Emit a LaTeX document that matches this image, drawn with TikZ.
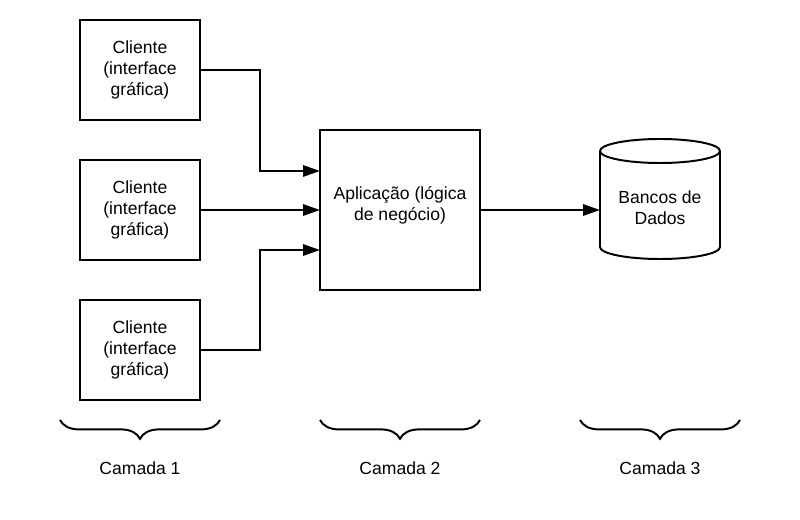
\documentclass[tikz,border=0pt]{standalone}
\usepackage{fontspec}
\setmainfont{Liberation Sans}
\usetikzlibrary{arrows.meta, positioning, decorations.pathreplacing, calc}

\begin{document}
\begin{tikzpicture}[
				node distance=1cm and 3cm,
				texto/.style={font=\fontsize{12.5}{15.2}\selectfont, align=center},
				caixa/.style={
						texto,
						draw=black,
						fill=white,
						line width=1.4pt,
						minimum width=3cm,
						minimum height=2.5cm,
						inner sep=2pt,
						outer sep=0pt,
					},
				aplicacao/.style={
						caixa,
						minimum width=4cm,
						minimum height=4cm,
						text depth=0.32cm,
					},
				seta/.style={
						-{Triangle[length=0.42cm, width=0.28cm]}, line width=1.4pt, black,
					},
				chave/.style={
						decorate, decoration={brace, mirror, amplitude=0.47cm},
						line width=1.4pt, black,
					},
			]

			% Rahmen
			\useasboundingbox (0,0) rectangle (20,-13);

			% Camada 1: drei Clients
			\node[caixa] (c1) at (3.5,-1.75) {Cliente\\(interface\\gráfica)};
			\node[caixa, below=of c1] (c2) {Cliente\\(interface\\gráfica)};
			\node[caixa, below=of c2] (c3) {Cliente\\(interface\\gráfica)};

			% Camada 2: Anwendung
			\node[aplicacao, right=of c2] (app) {Aplicação (lógica\\de negócio)};

			% Camada 3: Datenbank (Zylinder)
			\node[minimum width=3cm, minimum height=3cm, inner sep=0pt, outer sep=0pt, right=of app, yshift=0.275cm] (db) {};
			\draw[line width=1.4pt]
			($(db.north west)+(0,-0.3)$) -- ($(db.south west)+(0,0.3)$)
			arc[start angle=180, end angle=360, x radius=1.5cm, y radius=0.3cm]
			-- ($(db.north east)+(0,-0.3)$);
			\draw[line width=1.4pt] ($(db.north)+(0,-0.3)$) ellipse[x radius=1.5cm, y radius=0.3cm];
			\node[texto] (dbtexto) at ($(db.center)+(0,-0.22)$) {Bancos de\\Dados};

			% Pfeile
			\draw[seta] (c1.east) -- ++(1.5,0) |- ($(app.west)+(0,0.975)$);
			\draw[seta] (c2.east) -- (app.west);
			\draw[seta] (c3.east) -- ++(1.5,0) |- ($(app.west)+(0,-1)$);
			\draw[seta] (app.east) -- (app.east -| db.west);

			% Klammern
			\draw[chave] ($(c3.south west)+(-0.5,-0.5)$) -- ($(c3.south east)+(0.5,-0.5)$);
			\draw[chave] ($(app.west |- c3.south)+(0,-0.5)$) -- ($(app.east |- c3.south)+(0,-0.5)$);
			\draw[chave] ($(db.west |- c3.south)+(-0.5,-0.5)$) -- ($(db.east |- c3.south)+(0.5,-0.5)$);

			% Beschriftungen unten
			\node[texto] (cam1) at (c3.center |- 0,-11.7) {Camada 1};
			\node[texto] (cam2) at (app.center |- 0,-11.7) {Camada 2};
			\node[texto] (cam3) at (db.center |- 0,-11.7) {Camada 3};

		\end{tikzpicture}
\end{document}
